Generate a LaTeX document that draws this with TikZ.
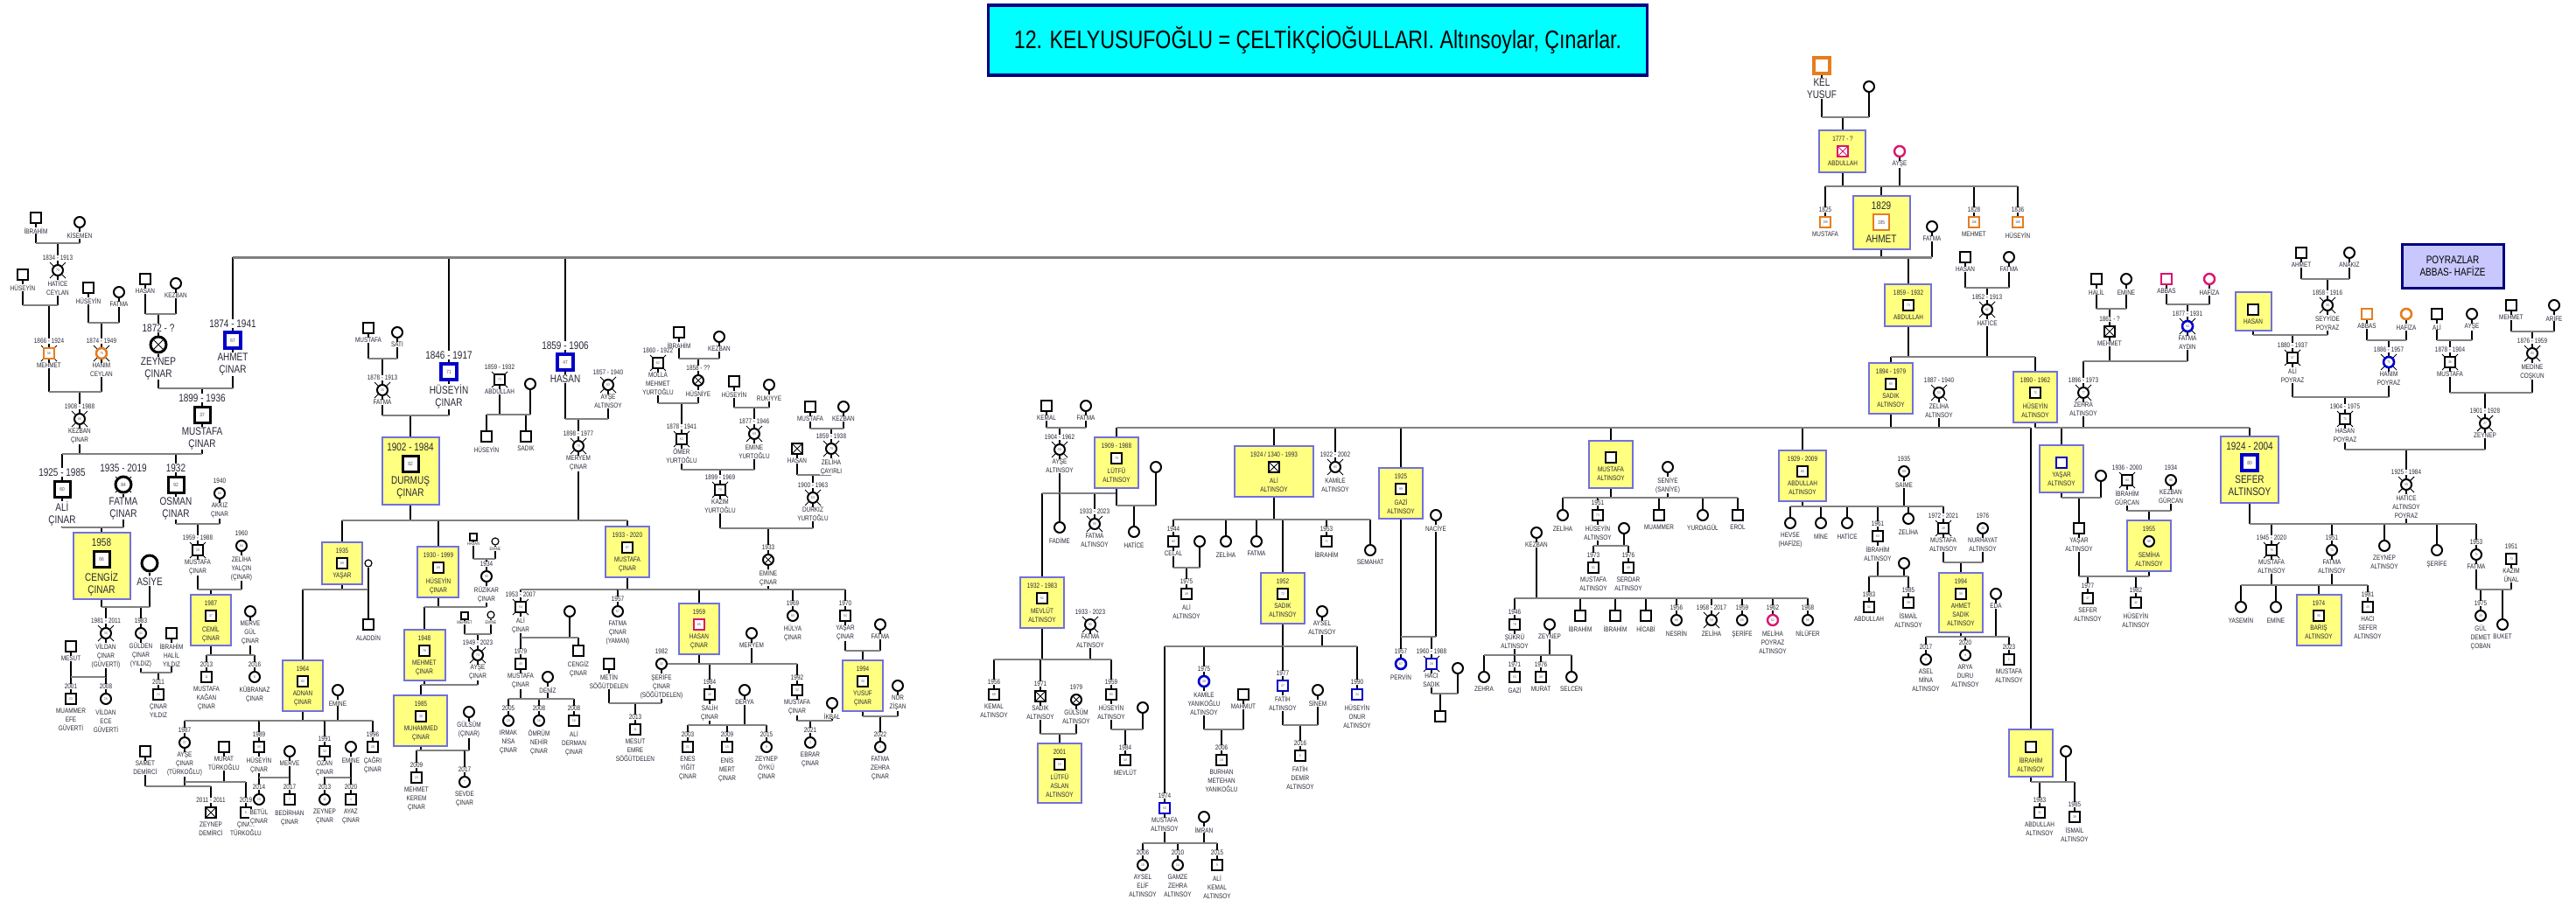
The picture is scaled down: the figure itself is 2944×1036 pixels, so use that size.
\documentclass[tikz,border=0pt]{standalone}
\usepackage{fontspec}
\setmainfont{Liberation Sans}[FakeStretch=0.8]
\pgfdeclarelayer{bg}
\pgfdeclarelayer{boxes}
\pgfsetlayers{bg,boxes,main}
\definecolor{txt}{RGB}{40,40,55}
\definecolor{bar}{RGB}{128,128,128}
\definecolor{hy}{RGB}{255,255,128}
\definecolor{hb}{RGB}{112,112,224}
\definecolor{cOr}{RGB}{230,125,30}
\definecolor{cPk}{RGB}{220,20,110}
\definecolor{cBl}{RGB}{0,0,200}
\definecolor{ttl}{RGB}{0,255,255}
\definecolor{nvy}{RGB}{0,0,128}
\definecolor{lav}{RGB}{200,200,255}
\newcommand\fS{\fontsize{8}{10}\selectfont}
\newcommand\fL{\fontsize{12.5}{14}\selectfont}
\newcommand\fT{\fontsize{5}{6}\selectfont}
\newcommand\fA{\fontsize{4}{4}\selectfont}
\tikzset{
  sym/.style={draw=black, fill=white, line width=2pt, inner sep=0pt, minimum size=12pt, font=\fA, text=black!70},
  m/.style={sym, rectangle},
  f/.style={sym, circle},
  big/.style={minimum size=18pt, line width=3pt, font=\fontsize{6}{6}\selectfont},
  tsym/.style={minimum size=8pt, line width=1.2pt},
  oline/.style={draw=cOr, line width=2.6pt},
  pline/.style={draw=cPk, line width=2.4pt},
  bline/.style={draw=cBl, line width=2.6pt},
  crossed/.style={path picture={\draw[line width=1pt] (path picture bounding box.north west) -- (path picture bounding box.south east) (path picture bounding box.north east) -- (path picture bounding box.south west);}},
  lab/.style={font=\fS, text=txt, align=center, inner sep=0.4pt, fill=white},
  yr/.style={label={[lab]above:#1}},
  nm/.style={label={[lab]below:#1}},
  Yr/.style={label={[lab,font=\fL]above:#1}},
  Nm/.style={label={[lab,font=\fL]below:#1}},
  by/.style={label={[lab,fill=none]above:#1}},
  bn/.style={label={[lab,fill=none]below:#1}},
  By/.style={label={[lab,fill=none,font=\fL]above:#1}},
  Bn/.style={label={[lab,fill=none,font=\fL]below:#1}},
  tn/.style={label={[lab,font=\fT,label distance=1pt]below:#1}},
  hbox/.style={fill=hy, draw=hb, line width=2.5pt},
  vl/.style={line width=2pt, black},
  hl/.style={line width=2pt, bar},
  tick/.style={line width=1pt, black},
  ttlbox/.style={fill=ttl, draw=nvy, line width=3.5pt, minimum width=753pt, minimum height=80pt, font=\fontsize{29}{32}\selectfont},
  pbox/.style={fill=lav, draw=nvy, line width=3pt, minimum width=116pt, minimum height=50pt, align=center, font=\fontsize{12.5}{14}\selectfont}
}
\newcommand\kin[3][]{%
  \begin{pgfonlayer}{bg}
  \foreach \n [count=\i, remember=\n as \prv] in {#3}{%
    \draw[vl] (\n) -- (\n |- 0,#2);
    \ifnum\i>1 \draw[hl,#1] (\prv |- 0,#2) -- (\n |- 0,#2);\fi
  }%
  \end{pgfonlayer}}
\newcommand\hbx[4]{\begin{pgfonlayer}{boxes}\draw[hbox] (#1,#2) rectangle (#3,#4);\end{pgfonlayer}}
\begin{document}
\begin{tikzpicture}[x=1pt, y=-1pt, label distance=3.5pt]
\useasboundingbox (0,0) rectangle (2944,1036);
\node[ttlbox] (title) at (1506,46) {12. KELYUSUFOĞLU = ÇELTİKÇİOĞULLARI. Altınsoylar, Çınarlar.};
\node[pbox] (poyraz) at (2803,304) {POYRAZLAR\\ABBAS- HAFİZE};

% Çınar side
\node[m,nm={İBRAHİM}] (ibrahimK) at (41,249) {};
\node[f,nm={KİSEMEN}] (kisemen) at (91,254) {};
\node[f,yr={1834 - 1913},nm={HATİCE\\CEYLAN}] (haticeC) at (66,309) {79};
\node[m,nm={HÜSEYİN}] (huseyinK) at (26,314) {};
\node[m,oline,yr={1866 - 1924},nm={MEHMET}] (mehmetC) at (56,404) {58};
\node[m,nm={HÜSEYİN}] (huseyinK2) at (101,329) {};
\node[f,nm={FATMA}] (fatmaK) at (136,334) {};
\node[f,oline,yr={1874 - 1949},nm={HANIM\\CEYLAN}] (hanimC) at (116,404) {75};
\node[f,yr={1908 - 1988},nm={KEZBAN\\ÇINAR}] (kezbanC) at (91,479) {80};
\node[m,nm={HASAN}] (hasanK) at (166,319) {};
\node[f,nm={KEZBAN}] (kezbanK) at (201,324) {};
\node[f,big,crossed,Yr={1872 - ?},Nm={ZEYNEP\\ÇINAR}] (zeynepC) at (181,394) {};
\node[m,big,bline,line width=3.5pt,Yr={1874 - 1941},Nm={AHMET\\ÇINAR}] (ahmetC) at (266,389) {67};
\node[m,big,Yr={1899 - 1936},Nm={MUSTAFA\\ÇINAR}] (mustafaC) at (231,474) {37};
\node[m,big,Yr={1925 - 1985},Nm={ALİ\\ÇINAR}] (aliC) at (71,559) {60};
\node[f,big,Yr={1935 - 2019},Nm={FATMA\\ÇINAR}] (fatmaC) at (141,554) {84};
\node[m,big,Yr={1932},Nm={OSMAN\\ÇINAR}] (osmanC) at (201,554) {92};
\node[f,yr={1940},nm={AKKIZ\\ÇINAR}] (akkiz) at (251,564) {84};
\hbx{84}{609}{149}{685}
\node[m,big,By={1958},Bn={CENGİZ\\ÇINAR}] (cengiz) at (116,639) {66};
\node[f,big,Nm={ASİYE}] (asiye) at (171,644) {};
\node[f,yr={1981 - 2011},nm={VİLDAN\\ÇINAR\\(GÜVERTİ)}] (vildan) at (121,724) {30};
\node[f,yr={1983},nm={GÜLDEN\\ÇINAR\\(YILDIZ)}] (gulden) at (161,724) {41};
\node[m,nm={İBRAHİM\\HALİL\\YILDIZ}] (ibrahimY) at (196,724) {};
\node[m,nm={MESUT}] (mesut) at (81,739) {};
\node[m,yr={2001},nm={MUAMMER\\EFE\\GÜVERTİ}] (muammer) at (81,799) {23};
\node[f,yr={2008},nm={VİLDAN\\ECE\\GÜVERTİ}] (vildanE) at (121,799) {16};
\node[m,yr={2011},nm={ÇINAR\\YILDIZ}] (cinarY) at (181,794) {13};
\node[m,yr={1959 - 1988},nm={MUSTAFA\\ÇINAR}] (mustafaZ) at (226,629) {29};
\node[f,yr={1960},nm={ZELİHA\\YALÇIN\\(ÇINAR)}] (zeliha) at (276,624) {64};
\hbx{218}{680}{264}{738}
\node[m,by={1987},bn={CEMİL\\ÇINAR}] (cemil) at (241,704) {37};
\node[f,nm={MERVE\\GÜL\\ÇINAR}] (merveG) at (286,699) {};
\node[m,yr={2013},nm={MUSTAFA\\KAĞAN\\ÇINAR}] (kagan) at (236,774) {11};
\node[f,yr={2016},nm={KÜBRANAZ\\ÇINAR}] (kubra) at (291,774) {8};

\node[m,nm={MUSTAFA}] (mustafaS) at (421,375) {};
\node[f,nm={SATI}] (sati) at (454,380) {};
\node[f,yr={1878 - 1913},nm={FATMA}] (fatmaD) at (437,446) {35};
\node[m,big,bline,line width=3.5pt,Yr={1846 - 1917},Nm={HÜSEYİN\\ÇINAR}] (huseyinC) at (513,425) {71};
\hbx{437}{500}{502}{577}
\node[m,big,By={1902 - 1984},Bn={DURMUŞ\\ÇINAR}] (durmus) at (469,530) {82};
\hbx{368}{620}{414}{668}
\node[m,by={1935},bn={YAŞAR}] (yasar) at (391,644) {89};
\node[f,tsym] (yasarW) at (421,644) {};
\node[m,nm={ALADDİN}] (aladdin) at (421,714) {};
\hbx{323}{755}{369}{813}
\node[m,by={1964},bn={ADNAN\\ÇINAR}] (adnan) at (346,779) {60};
\node[f,nm={EMİNE}] (emineA) at (386,789) {};
\node[f,yr={1987},nm={AYŞE\\ÇINAR\\(TÜRKOĞLU)}] (ayseC) at (211,849) {37};
\node[m,nm={SAMET\\DEMİRCİ}] (samet) at (166,859) {};
\node[m,nm={MURAT\\TÜRKOĞLU}] (murat) at (256,854) {};
\node[m,crossed,yr={2011 - 2011},nm={ZEYNEP\\DEMİRCİ}] (zeynepD) at (241,929) {};
\node[m,yr={2019},nm={ÇINAR\\TÜRKOĞLU}] (cinarT) at (281,929) {5};
\node[m,yr={1989},nm={HÜSEYİN\\ÇINAR}] (huseyinA) at (296,854) {35};
\node[f,nm={MERVE}] (merve) at (331,859) {};
\node[f,yr={2014},nm={BETÜL\\ÇINAR}] (betul) at (296,914) {10};
\node[m,yr={2017},nm={BEDİRHAN\\ÇINAR}] (bedirhan) at (331,914) {7};
\node[m,yr={1991},nm={OZAN\\ÇINAR}] (ozan) at (371,859) {33};
\node[f,nm={EMİNE}] (emineO) at (401,854) {};
\node[f,yr={2013},nm={ZEYNEP\\ÇINAR}] (zeynepO) at (371,914) {11};
\node[m,yr={2020},nm={AYAZ\\ÇINAR}] (ayaz) at (401,914) {4};
\node[m,yr={1996},nm={ÇAĞRI\\ÇINAR}] (cagri) at (426,854) {28};

\hbx{477}{625}{524}{683}
\node[m,by={1930 - 1999},bn={HÜSEYİN\\ÇINAR}] (huseyinH) at (501,649) {69};
\node[m,tsym,tn={HASAN}] (hasanT) at (541,614) {};
\node[f,tsym,tn={EMİNE}] (emineT) at (566,619) {};
\node[f,yr={1934},nm={RÜZİKAR\\ÇINAR}] (ruzikar) at (556,659) {90};
\hbx{462}{720}{509}{778}
\node[m,by={1948},bn={MEHMET\\ÇINAR}] (mehmetH) at (485,744) {76};
\node[m,tsym,tn={MEHMET}] (mehmetT) at (531,704) {};
\node[f,tsym,tn={EMİNE}] (emineT2) at (561,703) {};
\node[f,yr={1949 - 2023},nm={AYŞE\\ÇINAR}] (ayseH) at (546,749) {74};
\hbx{450}{795}{511}{853}
\node[m,by={1985},bn={MUHAMMED\\ÇINAR}] (muhammed) at (481,819) {39};
\node[f,nm={GÜLSÜM\\(ÇINAR)}] (gulsum) at (536,814) {};
\node[m,yr={2009},nm={MEHMET\\KEREM\\ÇINAR}] (kerem) at (476,889) {15};
\node[f,yr={2017},nm={SEVDE\\ÇINAR}] (sevde) at (531,894) {7};

\hbx{692}{602}{742}{660}
\node[m,by={1933 - 2020},bn={MUSTAFA\\ÇINAR}] (mustafaM) at (717,626) {87};
\node[m,yr={1953 - 2007},nm={ALİ\\ÇINAR}] (aliM) at (595,694) {54};
\node[f] (aliW) at (651,699) {};
\node[m,yr={1979},nm={MUSTAFA\\ÇINAR}] (mustafaA) at (595,759) {45};
\node[m,nm={CENGİZ\\ÇINAR}] (cengizM) at (661,744) {};
\node[f,nm={DENİZ}] (deniz) at (626,774) {};
\node[f,yr={2005},nm={IRMAK\\NİSA\\ÇINAR}] (irmak) at (581,824) {19};
\node[f,yr={2008},nm={ÖMRÜM\\NEHİR\\ÇINAR}] (omrum) at (616,824) {16};
\node[m,yr={2008},nm={ALİ\\DERMAN\\ÇINAR}] (aliD) at (656,824) {16};
\node[f,yr={1957},nm={FATMA\\ÇINAR\\(YAMAN)}] (fatmaY) at (706,699) {67};
\node[m,nm={METİN\\SÖĞÜTDELEN}] (metin) at (696,759) {};
\node[f,yr={1982},nm={ŞERİFE\\ÇINAR\\(SÖĞÜTDELEN)}] (serife) at (756,759) {42};
\node[m,yr={2013},nm={MESUT\\EMRE\\SÖĞÜTDELEN}] (mesutE) at (726,834) {11};
\hbx{776}{690}{822}{748}
\node[m,pline,by={1959},bn={HASAN\\ÇINAR}] (hasanM) at (799,714) {65};
\node[f,nm={MERYEM}] (meryemM) at (859,724) {};
\node[m,yr={1984},nm={SALİH\\ÇINAR}] (salih) at (811,794) {40};
\node[f,nm={DERYA}] (derya) at (851,789) {};
\node[m,yr={2003},nm={ENES\\YİĞİT\\ÇINAR}] (enes) at (786,854) {21};
\node[m,yr={2009},nm={ENİS\\MERT\\ÇINAR}] (enis) at (831,854) {15};
\node[f,yr={2015},nm={ZEYNEP\\ÖYKÜ\\ÇINAR}] (zeynepY) at (876,854) {9};
\node[m,yr={1992},nm={MUSTAFA\\ÇINAR}] (mustafaI) at (911,789) {32};
\node[f,nm={İKBAL}] (ikbal) at (951,804) {};
\node[f,yr={2021},nm={EBRAR\\ÇINAR}] (ebrar) at (926,849) {3};
\node[f,yr={1969},nm={HÜLYA\\ÇINAR}] (hulya) at (906,704) {55};
\node[m,yr={1970},nm={YAŞAR\\ÇINAR}] (yasarM) at (966,704) {54};
\node[f,nm={FATMA}] (fatmaYs) at (1006,714) {};
\hbx{963}{755}{1009}{813}
\node[m,by={1994},bn={YUSUF\\ÇINAR}] (yusuf) at (986,779) {30};
\node[f,nm={NUR\\ZİŞAN}] (nur) at (1026,784) {};
\node[f,yr={2022},nm={FATMA\\ZEHRA\\ÇINAR}] (fatmaZ) at (1006,854) {2};

\node[m,yr={1859 - 1932},nm={ABDULLAH}] (abdullahH) at (571,434) {73};
\node[f] (abdW) at (606,439) {};
\node[m,nm={HÜSEYİN}] (huseyinS) at (556,499) {};
\node[m,nm={SADIK}] (sadik) at (601,499) {};
\node[m,big,bline,line width=3.5pt,Yr={1859 - 1906},Nm={HASAN}] (hasanC) at (646,414) {47};
\node[f,yr={1857 - 1940},nm={AYŞE\\ALTINSOY}] (ayseA) at (695,440) {83};
\node[f,yr={1898 - 1977},nm={MERYEM\\ÇINAR}] (meryem) at (661,510) {79};
\node[m,yr={1860 - 1922},nm={MOLLA\\MEHMET\\YURTOĞLU}] (molla) at (752,415) {62};
\node[m,nm={İBRAHİM}] (ibrahimY2) at (776,380) {};
\node[f,nm={KEZBAN}] (kezbanY) at (822,385) {};
\node[f,crossed,yr={1858 - ??},nm={HÜSNİYE}] (husniye) at (798,435) {};
\node[m,yr={1878 - 1941},nm={ÖMER\\YURTOĞLU}] (omer) at (779,502) {63};
\node[m,nm={HÜSEYİN}] (huseyinR) at (839,436) {};
\node[f,nm={RUKİYYE}] (rukiyye) at (879,440) {};
\node[f,yr={1877 - 1946},nm={EMİNE\\YURTOĞLU}] (emineY) at (862,496) {69};
\node[m,yr={1899 - 1969},nm={KAZIM\\YURTOĞLU}] (kazim) at (823,560) {70};
\node[m,nm={MUSTAFA}] (mustafaK) at (926,465) {};
\node[f,nm={KEZBAN}] (kezbanK2) at (964,465) {};
\node[f,yr={1859 - 1938},nm={ZELİHA\\ÇAYIRLI}] (zelihaC) at (950,513) {79};
\node[m,crossed,nm={HASAN}] (hasanX) at (911,513) {};
\node[f,yr={1900 - 1963},nm={DURKIZ\\YURTOĞLU}] (durkiz) at (929,569) {63};
\node[f,crossed,yr={1933},nm={EMİNE\\ÇINAR}] (emineM) at (878,640) {};

% Altınsoy side
\node[m,big,oline,line width=3.5pt,Nm={KEL\\YUSUF}] (kelyusuf) at (2082,75) {};
\node[f] (kyW) at (2136,99) {};
\hbx{2079}{149}{2132}{197}
\node[m,pline,crossed,by={1777 - ?},bn={ABDULLAH}] (abdullahO) at (2106,173) {};
\node[f,pline,nm={AYŞE}] (ayseP) at (2171,173) {};
\node[m,oline,yr={1825},nm={MUSTAFA}] (mustafaO) at (2086,254) {199};
\hbx{2118}{224}{2183}{285}
\node[m,big,oline,By={1829},Bn={AHMET}] (ahmetO) at (2150,254) {195};
\node[m,oline,yr={1828},nm={MEHMET}] (mehmetO) at (2256,254) {196};
\node[m,oline,yr={1836},nm={HÜSEYİN}] (huseyinO) at (2306,254) {188};
\node[f,nm={FATMA}] (fatmaO) at (2208,259) {};
\hbx{2154}{325}{2207}{373}
\node[m,by={1859 - 1932},bn={ABDULLAH}] (abdullahA) at (2181,349) {73};
\node[m,nm={HASAN}] (hasanA) at (2246,294) {};
\node[f,nm={FATMA}] (fatmaA) at (2296,294) {};
\node[f,yr={1852 - 1913},nm={HATİCE}] (haticeA) at (2271,354) {61};
\hbx{2136}{415}{2186}{473}
\node[m,by={1894 - 1979},bn={SADIK\\ALTINSOY}] (sadikA) at (2161,439) {85};
\node[f,yr={1887 - 1940},nm={ZELİHA\\ALTINSOY}] (zelihaA) at (2216,449) {53};
\hbx{2301}{425}{2351}{483}
\node[m,by={1890 - 1962},bn={HÜSEYİN\\ALTINSOY}] (huseyinAl) at (2326,449) {72};
\node[m,nm={HALİL}] (halil) at (2396,319) {};
\node[f,nm={EMİNE}] (emineH) at (2430,319) {};
\node[m,crossed,yr={1861 - ?},nm={MEHMET}] (mehmetH2) at (2411,379) {};
\node[m,pline,nm={ABBAS}] (abbasP) at (2476,319) {};
\node[f,pline,nm={HAFİZA}] (hafizaP) at (2525,319) {};
\node[f,bline,yr={1877 - 1931},nm={FATMA\\AYDIN}] (fatmaAy) at (2500,373) {54};
\node[f,yr={1896 - 1973},nm={ZEHRA\\ALTINSOY}] (zehra) at (2381,449) {77};

\hbx{1251}{500}{1301}{558}
\node[m,by={1909 - 1988},bn={LÜTFÜ\\ALTINSOY}] (lutfu) at (1276,524) {79};
\node[m,nm={KEMAL}] (kemal) at (1196,464) {};
\node[f,nm={FATMA}] (fatmaK3) at (1241,464) {};
\node[f,yr={1904 - 1962},nm={AYŞE\\ALTINSOY}] (ayseAl) at (1211,514) {58};
\node[f,nm={FADİME}] (fadime) at (1211,603) {};
\node[f,yr={1933 - 2023},nm={FATMA\\ALTINSOY}] (fatmaAl) at (1251,599) {90};
\node[f] (lutfuW) at (1321,534) {};
\node[f,nm={HATİCE}] (hatice2) at (1296,608) {};
\hbx{1166}{660}{1216}{718}
\node[m,by={1932 - 1983},bn={MEVLÜT\\ALTINSOY}] (mevlut) at (1191,684) {51};
\node[f,yr={1933 - 2023},nm={FATMA\\ALTINSOY}] (fatmaM) at (1246,714) {90};
\node[m,yr={1956},nm={KEMAL\\ALTINSOY}] (kemalA) at (1136,794) {68};
\node[m,crossed,yr={1971},nm={SADIK\\ALTINSOY}] (sadikS) at (1189,796) {};
\node[f,crossed,yr={1979},nm={GÜLSÜM\\ALTINSOY}] (gulsumA) at (1230,800) {};
\hbx{1186}{850}{1236}{918}
\node[m,by={2001},bn={LÜTFÜ\\ASLAN\\ALTINSOY}] (lutfuA) at (1211,874) {23};
\node[m,yr={1959},nm={HÜSEYİN\\ALTINSOY}] (huseyinM) at (1270,794) {65};
\node[f] (huseyinMW) at (1306,809) {};
\node[m,yr={1984},nm={MEVLÜT}] (mevlutB) at (1286,869) {40};

\hbx{1411}{510}{1501}{568}
\node[m,crossed,by={1924 / 1340 - 1993},bn={ALİ\\ALTINSOY}] (aliA) at (1456,534) {};
\node[f,yr={1922 - 2002},nm={KAMİLE\\ALTINSOY}] (kamile) at (1526,534) {80};
\node[m,yr={1944},nm={CELAL}] (celal) at (1341,619) {80};
\node[f] (celalW) at (1371,619) {};
\node[m,yr={1975},nm={ALİ\\ALTINSOY}] (aliL) at (1356,679) {49};
\node[f,nm={ZELİHA}] (zelihaL) at (1401,619) {};
\node[f,nm={FATMA}] (fatmaL) at (1436,619) {};
\node[m,yr={1953},nm={İBRAHİM}] (ibrahimL) at (1516,619) {71};
\node[f,nm={SEMAHAT}] (semahat) at (1566,629) {};
\hbx{1441}{655}{1491}{713}
\node[m,by={1952},bn={SADIK\\ALTINSOY}] (sadikL) at (1466,679) {72};
\node[f,nm={AYSEL\\ALTINSOY}] (aysel) at (1511,699) {};
\node[f,bline,yr={1975},nm={KAMİLE\\YANIKOĞLU\\ALTINSOY}] (kamileY) at (1376,779) {49};
\node[m,nm={MAHMUT}] (mahmut) at (1421,794) {};
\node[m,yr={2006},nm={BURHAN\\METEHAN\\YANIKOĞLU}] (burhan) at (1396,869) {18};
\node[m,bline,yr={1974},nm={MUSTAFA\\ALTINSOY}] (mustafaL) at (1331,924) {50};
\node[f,nm={İMRAN}] (imran) at (1376,934) {};
\node[f,yr={2006},nm={AYSEL\\ELİF\\ALTINSOY}] (ayselE) at (1306,989) {18};
\node[f,yr={2010},nm={GAMZE\\ZEHRA\\ALTINSOY}] (gamze) at (1346,989) {14};
\node[m,yr={2015},nm={ALİ\\KEMAL\\ALTINSOY}] (aliK) at (1391,989) {9};
\node[m,bline,yr={1977},nm={FATİH\\ALTINSOY}] (fatih) at (1466,784) {47};
\node[f,nm={SİNEM}] (sinem) at (1506,789) {};
\node[m,yr={2016},nm={FATİH\\DEMİR\\ALTINSOY}] (fatihD) at (1486,864) {8};
\node[m,bline,yr={1990},nm={HÜSEYİN\\ONUR\\ALTINSOY}] (onur) at (1551,794) {34};

\hbx{1576}{535}{1626}{593}
\node[m,by={1925},bn={GAZİ\\ALTINSOY}] (gazi) at (1601,559) {99};
\node[f,nm={NACİYE}] (naciye) at (1641,589) {};
\node[f,bline,yr={1957},nm={PERVİN}] (pervin) at (1601,759) {67};
\node[m,bline,yr={1960 - 1988},nm={HACI\\SADIK}] (haciS) at (1636,759) {28};
\node[f] (haciW) at (1666,764) {};
\node[m] (haciK) at (1646,819) {};

\hbx{1816}{504}{1866}{558}
\node[m,bn={MUSTAFA\\ALTINSOY}] (mustafaAl) at (1841,523) {};
\node[f,nm={SENİYE\\(SANİYE)}] (seniye) at (1906,534) {};
\node[f,nm={ZELİHA}] (zelihaS) at (1786,589) {};
\node[m,yr={1951},nm={HÜSEYİN\\ALTINSOY}] (huseyinS2) at (1826,589) {73};
\node[f] (hsW) at (1856,604) {};
\node[m,yr={1973},nm={MUSTAFA\\ALTINSOY}] (mustafaS2) at (1821,649) {51};
\node[m,yr={1976},nm={SERDAR\\ALTINSOY}] (serdar) at (1861,649) {48};
\node[m,nm={MUAMMER}] (muammerS) at (1896,589) {};
\node[f,nm={YURDAGÜL}] (yurdagul) at (1946,589) {};
\node[m,nm={EROL}] (erol) at (1986,589) {};
\node[f,nm={KEZBAN}] (kezbanS) at (1756,609) {};
\node[m,yr={1946},nm={ŞÜKRÜ\\ALTINSOY}] (sukru) at (1731,714) {78};
\node[f,nm={ZEYNEP}] (zeynepS) at (1771,714) {};
\node[f,nm={ZEHRA}] (zehraS) at (1696,774) {};
\node[m,yr={1971},nm={GAZİ}] (gaziS) at (1731,774) {53};
\node[m,yr={1976},nm={MURAT}] (muratS) at (1761,774) {48};
\node[f,nm={SELCEN}] (selcen) at (1796,774) {};
\node[m,nm={İBRAHİM}] (ibrahimS1) at (1806,704) {};
\node[m,nm={İBRAHİM}] (ibrahimS2) at (1846,704) {};
\node[m,nm={HİCABİ}] (hicabi) at (1881,704) {};
\node[f,yr={1956},nm={NESRİN}] (nesrin) at (1916,709) {68};
\node[f,yr={1958 - 2017},nm={ZELİHA}] (zelihaN) at (1956,709) {59};
\node[f,yr={1959},nm={ŞERİFE}] (serifeN) at (1991,709) {65};
\node[f,pline,yr={1962},nm={MELİHA\\POYRAZ\\ALTINSOY}] (meliha) at (2026,709) {62};
\node[f,yr={1968},nm={NİLÜFER}] (nilufer) at (2066,709) {56};

\hbx{2033}{515}{2087}{573}
\node[m,by={1929 - 2009},bn={ABDULLAH\\ALTINSOY}] (abdullahAl) at (2060,539) {80};
\node[f,yr={1935},nm={SAİME}] (saime) at (2176,539) {89};
\node[f,nm={HEVSE\\(HAFİZE)}] (hevse) at (2046,598) {};
\node[f,nm={MİNE}] (mine) at (2081,598) {};
\node[f,nm={HATİCE}] (haticeS) at (2111,598) {};
\node[m,yr={1961},nm={İBRAHİM\\ALTINSOY}] (ibrahimA2) at (2146,613) {63};
\node[f,nm={ZELİHA}] (zelihaZ) at (2181,593) {};
\node[m,yr={1972 - 2021},nm={MUSTAFA\\ALTINSOY}] (mustafaN) at (2221,604) {49};
\node[f,yr={1976},nm={NURHAYAT\\ALTINSOY}] (nurhayat) at (2266,604) {48};
\hbx{2216}{655}{2266}{723}
\node[m,by={1994},bn={AHMET\\SADIK\\ALTINSOY}] (ahmetS) at (2241,679) {30};
\node[f,nm={EDA}] (eda) at (2281,679) {};
\node[f,yr={2017},nm={ASEL\\MİNA\\ALTINSOY}] (asel) at (2201,754) {7};
\node[f,yr={2020},nm={ARYA\\DURU\\ALTINSOY}] (arya) at (2246,749) {4};
\node[m,yr={2023},nm={MUSTAFA\\ALTINSOY}] (mustafaE) at (2296,754) {1};
\node[f] (ibW) at (2176,644) {};
\node[m,yr={1983},nm={ABDULLAH}] (abdullahI) at (2136,694) {41};
\node[m,yr={1985},nm={İSMAİL\\ALTINSOY}] (ismailI) at (2181,689) {39};
\hbx{2296}{834}{2346}{888}
\node[m,bn={İBRAHİM\\ALTINSOY}] (ibrahimAl) at (2321,854) {};
\node[f] (ibAW) at (2361,859) {};
\node[m,yr={1983},nm={ABDULLAH\\ALTINSOY}] (abdullahB) at (2331,929) {41};
\node[m,yr={1985},nm={İSMAİL\\ALTINSOY}] (ismailB) at (2371,934) {39};

\hbx{2331}{509}{2381}{563}
\node[m,bline,bn={YAŞAR\\ALTINSOY}] (yasarA) at (2356,529) {};
\node[f] (yaW) at (2401,544) {};
\node[m,nm={YAŞAR\\ALTINSOY}] (yasarB) at (2376,604) {};
\node[m,yr={1977},nm={SEFER\\ALTINSOY}] (seferB) at (2386,684) {47};
\node[m,yr={1982},nm={HÜSEYİN\\ALTINSOY}] (huseyinB) at (2441,689) {42};
\hbx{2431}{595}{2481}{653}
\node[f,by={1955},bn={SEMİHA\\ALTINSOY}] (semiha) at (2456,619) {69};
\node[m,yr={1936 - 2000},nm={İBRAHİM\\GÜRCAN}] (ibrahimG) at (2431,549) {64};
\node[f,yr={1934},nm={KEZBAN\\GÜRCAN}] (kezbanG) at (2481,549) {90};

\hbx{2538}{499}{2604}{575}
\node[m,big,bline,line width=3.5pt,By={1924 - 2004},Bn={SEFER\\ALTINSOY}] (sefer) at (2571,529) {80};
\node[f,yr={1925 - 1984},nm={HATİCE\\ALTINSOY\\POYRAZ}] (haticeP) at (2750,554) {59};
\node[m,yr={1945 - 2020},nm={MUSTAFA\\ALTINSOY}] (mustafaP) at (2596,629) {75};
\node[f,yr={1951},nm={FATMA\\ALTINSOY}] (fatmaP) at (2665,629) {73};
\node[f,nm={ZEYNEP\\ALTINSOY}] (zeynepP) at (2725,624) {};
\node[f,nm={ŞERİFE}] (serifeP) at (2785,629) {};
\node[f,yr={1953},nm={FATMA}] (fatmaQ) at (2830,634) {71};
\node[m,yr={1951},nm={KAZIM\\ÜNAL}] (kazimU) at (2870,639) {73};
\node[f,yr={1975},nm={GÜL\\DEMET\\ÇOBAN}] (gul) at (2835,704) {49};
\node[f,nm={BUKET}] (buket) at (2860,714) {};
\node[f,nm={YASEMİN}] (yasemin) at (2561,694) {};
\node[f,nm={EMİNE}] (emineP) at (2601,694) {};
\hbx{2625}{680}{2676}{738}
\node[m,by={1974},bn={BARIŞ\\ALTINSOY}] (baris) at (2650,704) {50};
\node[m,yr={1981},nm={HACI\\SEFER\\ALTINSOY}] (haciSe) at (2706,694) {43};

% Poyraz side
\hbx{2555}{334}{2596}{378}
\node[m,bn={HASAN}] (hasanPo) at (2575,354) {};
\node[m,nm={AHMET}] (ahmetP) at (2630,289) {};
\node[f,nm={ANAKIZ}] (anakiz) at (2685,289) {};
\node[f,yr={1858 - 1916},nm={SEYYİDE\\POYRAZ}] (seyyide) at (2660,349) {58};
\node[m,yr={1880 - 1937},nm={ALİ\\POYRAZ}] (aliP) at (2620,409) {57};
\node[m,oline,nm={ABBAS}] (abbasO) at (2705,359) {};
\node[f,oline,nm={HAFİZA}] (hafizaO) at (2750,359) {};
\node[f,bline,yr={1886 - 1957},nm={HANIM\\POYRAZ}] (hanimP) at (2730,414) {71};
\node[m,nm={ALİ}] (aliA2) at (2785,359) {};
\node[f,nm={AYŞE}] (ayseA2) at (2825,359) {};
\node[m,yr={1878 - 1904},nm={MUSTAFA}] (mustafaQ) at (2800,414) {26};
\node[m,nm={MEHMET}] (mehmetP) at (2870,349) {};
\node[f,nm={ARİFE}] (arife) at (2919,349) {};
\node[f,yr={1876 - 1959},nm={MEDİNE\\COŞKUN}] (medine) at (2894,404) {83};
\node[m,yr={1904 - 1975},nm={HASAN\\POYRAZ}] (hasanP) at (2680,479) {71};
\node[f,yr={1901 - 1928},nm={ZEYNEP}] (zeynepQ) at (2840,484) {27};

% connectors
\kin[line width=3pt]{294}{ahmetC,huseyinC,hasanC,ahmetO,abdullahA,fatmaO}
\kin{278}{ibrahimK,haticeC,kisemen}
\kin{349}{huseyinK,mehmetC,haticeC}
\kin{369}{huseyinK2,hanimC,fatmaK}
\kin{448}{mehmetC,kezbanC,hanimC}
\kin{359}{hasanK,zeynepC,kezbanK}
\kin{444}{zeynepC,mustafaC,ahmetC}
\kin{519}{aliC,kezbanC,osmanC,mustafaC}
\kin{603}{aliC,cengiz,fatmaC}
\kin{599}{osmanC,mustafaZ,akkiz}
\kin{694}{cengiz,vildan,gulden,asiye}
\kin{774}{mesut,muammer,vildanE,vildan}
\kin{769}{gulden,cinarY,ibrahimY}
\kin{674}{mustafaZ,cemil,zeliha}
\kin{749}{kagan,cemil,merveG,kubra}
\kin{410}{mustafaS,fatmaD,sati}
\kin{475}{fatmaD,durmus,huseyinC}
\kin{595}{yasar,durmus,huseyinH,meryem,mustafaM}
\kin{674}{adnan,yasar,yasarW,aladdin}
\kin{824}{ayseC,adnan,huseyinA,emineA,ozan,cagri}
\kin{899}{samet,ayseC,zeynepD}
\kin{894}{ayseC,murat,cinarT}
\kin{889}{huseyinA,betul,bedirhan,merve}
\kin{889}{ozan,zeynepO,ayaz,emineO}
\kin{639}{hasanT,ruzikar,emineT}
\kin{694}{huseyinH,mehmetH,ruzikar}
\kin{725}{mehmetT,ayseH,emineT2}
\kin{783}{mehmetH,muhammed,ayseH}
\kin{858}{muhammed,kerem,gulsum,sevde}
\kin{674}{aliM,mustafaM,fatmaY,hasanM,emineM,hulya,yasarM}
\kin{729}{aliM,mustafaA,aliW,cengizM}
\kin{799}{mustafaA,irmak,omrum,deniz,aliD}
\kin{804}{metin,mesutE,serife}
\kin{759}{serife,hasanM,salih,meryemM,mustafaI}
\kin{829}{enes,salih,enis,derya,zeynepY}
\kin{824}{mustafaI,ebrar,ikbal}
\kin{744}{yasarM,yusuf,fatmaYs}
\kin{819}{yusuf,fatmaZ,nur}
\kin{474}{huseyinS,abdullahH,sadik,abdW}
\kin{479}{hasanC,meryem,ayseA}
\kin{410}{ibrahimY2,husniye,kezbanY}
\kin{461}{molla,omer,husniye}
\kin{466}{huseyinR,emineY,rukiyye}
\kin{537}{omer,kazim,emineY}
\kin{490}{mustafaK,zelihaC,kezbanK2}
\kin{543}{hasanX,durkiz,zelihaC}
\kin{604}{kazim,emineM,durkiz}
\kin{134}{kelyusuf,abdullahO,kyW}
\kin{213}{mustafaO,abdullahO,ahmetO,ayseP,mehmetO,huseyinO}
\kin{329}{hasanA,haticeA,fatmaA}
\kin{408}{sadikA,abdullahA,haticeA,huseyinAl}
\kin{353}{halil,mehmetH2,emineH}
\kin{348}{abbasP,fatmaAy,hafizaP}
\kin{413}{zehra,mehmetH2,fatmaAy}
\kin{489}{lutfu,aliA,kamile,gazi,mustafaAl,abdullahAl,sadikA,zelihaA,ibrahimAl}
\kin{489}{huseyinAl,yasarA,zehra,sefer}
\kin{489}{kemal,ayseAl,fatmaK3}
\kin{564}{mevlut,ayseAl,fadime,fatmaAl,lutfu}
\kin{578}{lutfu,hatice2,lutfuW}
\kin{754}{kemalA,mevlut,sadikS,fatmaM,huseyinM}
\kin{839}{sadikS,lutfuA,gulsumA}
\kin{834}{huseyinM,mevlutB,huseyinMW}
\kin{594}{celal,zelihaL,fatmaL,aliA,sadikL,ibrahimL,semahat}
\kin{649}{celal,aliL,celalW}
\kin{739}{mustafaL,kamileY,sadikL,fatih,aysel,onur}
\kin{834}{kamileY,burhan,mahmut}
\kin{964}{ayselE,mustafaL,gamze,imran,aliK}
\kin{829}{fatih,fatihD,sinem}
\kin{728}{gazi,pervin,haciS,naciye}
\kin{793}{haciS,haciK,haciW}
\kin{569}{zelihaS,mustafaAl,huseyinS2,muammerS,seniye,yurdagul,erol}
\kin{624}{huseyinS2,mustafaS2,hsW,serdar}
\kin{684}{kezbanS,sukru,ibrahimS1,ibrahimS2,hicabi,nesrin,zelihaN,serifeN,meliha,nilufer}
\kin{749}{zehraS,sukru,gaziS,muratS,zeynepS,selcen}
\kin{579}{hevse,abdullahAl,mine,haticeS,ibrahimA2,saime,zelihaZ,mustafaN}
\kin{643}{mustafaN,ahmetS,nurhayat}
\kin{728}{asel,ahmetS,arya,eda,mustafaE}
\kin{659}{abdullahI,ibrahimA2,ibW,ismailI}
\kin{894}{ibrahimAl,abdullahB,ibAW,ismailB}
\kin{569}{yasarA,yasarB,yaW}
\kin{659}{yasarB,seferB,huseyinB,semiha}
\kin{584}{ibrahimG,semiha,kezbanG}
\kin{599}{sefer,mustafaP,fatmaP,zeynepP,haticeP,serifeP,fatmaQ}
\kin{674}{fatmaQ,gul,buket,kazimU}
\kin{669}{yasemin,mustafaP,emineP,baris,fatmaP,haciSe}
\kin{319}{ahmetP,seyyide,anakiz}
\kin{383}{hasanPo,aliP,seyyide}
\kin{389}{abbasO,hanimP,hafizaO}
\kin{389}{aliA2,mustafaQ,ayseA2}
\kin{379}{mehmetP,medine,arife}
\kin{454}{aliP,hasanP,hanimP}
\kin{449}{mustafaQ,zeynepQ,medine}
\kin{514}{hasanP,haticeP,zeynepQ}

% death ticks
\begin{pgfonlayer}{bg}
\foreach \n in {haticeC,mehmetC,hanimC,kezbanC,fatmaC,vildan,mustafaZ,fatmaD,ayseH,aliM,abdullahH,ayseA,meryem,molla,omer,emineY,kazim,zelihaC,durkiz,ayseAl,fatmaAl,fatmaM,kamile,haciS,zelihaN,mustafaN,haticeA,zelihaA,fatmaAy,zehra,ibrahimG,haticeP,mustafaP,seyyide,aliP,hanimP,mustafaQ,medine,hasanP,zeynepQ}
  \draw[tick] ([shift={(-9,-9)}]\n.center) -- ([shift={(9,9)}]\n.center) ([shift={(-9,9)}]\n.center) -- ([shift={(9,-9)}]\n.center);
\end{pgfonlayer}
\end{tikzpicture}
\end{document}
